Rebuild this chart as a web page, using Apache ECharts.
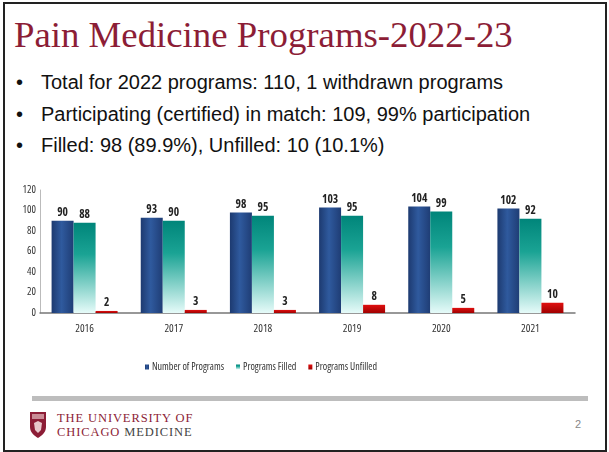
<!DOCTYPE html>
<html>
<head>
<meta charset="utf-8">
<script src="https://cdn.jsdelivr.net/npm/echarts@6/dist/echarts.min.js"></script>
<style>
  html, body { margin: 0; padding: 0; background: #fff; }
  #slide { position: relative; width: 609px; height: 452px; overflow: hidden; }
  #frame { position: absolute; left: 3px; top: 2px; width: 600px; height: 446px; border: 2px solid #222; }
  #title { position: absolute; left: 14px; top: 13px; font-family: "Liberation Serif", "Times New Roman", serif;
           font-size: 36.8px; color: #8c1d36; white-space: nowrap; }
  .bullet { position: absolute; left: 16px; font-family: "Liberation Sans", Arial, sans-serif; font-size: 20px;
            color: #111; white-space: nowrap; }
  .bullet span { display: inline-block; width: 25px; }
  #chart { position: absolute; left: 0; top: 170px; width: 609px; height: 210px; }
  #rule { position: absolute; left: 32px; top: 396px; width: 556px; height: 5px; background: #bdbdbd; }
  #logo { position: absolute; left: 30px; top: 412px; }
  #uni { position: absolute; left: 57px; top: 411px; font-family: "Liberation Serif", "Times New Roman", serif;
         font-size: 12.5px; line-height: 14px; letter-spacing: 0.9px; color: #8c1d36; }
  #uni .g { color: #444; }
  #page { position: absolute; left: 575px; top: 418px; font-family: "Liberation Sans", Arial, sans-serif;
          font-size: 11px; color: #888; }
</style>
</head>
<body>
<div id="slide">
  <div id="frame"></div>
  <div id="title">Pain Medicine Programs-2022-23</div>
  <div class="bullet" style="top:71px"><span>•</span>Total for 2022 programs: 110, 1 withdrawn programs</div>
  <div class="bullet" style="top:103px"><span>•</span>Participating (certified) in match: 109, 99% participation</div>
  <div class="bullet" style="top:134px"><span>•</span>Filled: 98 (89.9%), Unfilled: 10 (10.1%)</div>
  <div id="chart"></div>
  <div id="rule"></div>
  <svg id="logo" width="16" height="26" viewBox="0 0 16 26">
    <path d="M0 0 H16 V15 C16 21 11 24 8 26 C5 24 0 21 0 15 Z" fill="#8c1d36"/>
    <rect x="2" y="2" width="12" height="5" fill="#c98b95"/>
    <path d="M4 11 L8 9 L12 11 L11 18 L8 21 L5 18 Z" fill="#e8c8cc"/>
  </svg>
  <div id="uni">THE UNIVERSITY OF<br>CHICAGO <span class="g">MEDICINE</span></div>
  <div id="page">2</div>
</div>
<script>
// Chart data
var years = ['2016', '2017', '2018', '2019', '2020', '2021'];
var numberOfPrograms = [90, 93, 98, 103, 104, 102];
var programsFilled = [88, 90, 95, 95, 99, 92];
var programsUnfilled = [2, 3, 3, 8, 5, 10];
var yTicks = [0, 20, 40, 60, 80, 100, 120];

var chartDom = document.getElementById('chart');
var myChart = echarts.init(chartDom, null, { renderer: 'canvas' });

// narrow look like the original slide font
var narrow = '"Open Sans", Arial, sans-serif';

var labelStyle = {
  show: true,
  position: 'top',
  distance: 2,
  fontFamily: narrow,
  fontStyle: 'condensed',
  fontWeight: 'bold',
  fontSize: 11.5,
  color: '#222'
};

var option = {
  animation: false,
  grid: { left: 40, right: 34, top: 20, bottom: 67 },
  legend: {
    top: 187,
    left: 140,
    itemWidth: 4,
    itemHeight: 5,
    itemGap: 12,
    icon: 'rect',
    textStyle: { fontFamily: narrow, fontStyle: 'condensed', fontSize: 10, color: '#333', padding: [0, 0, 0, -2] },
    data: ['Number of Programs', 'Programs Filled', 'Programs Unfilled']
  },
  xAxis: {
    type: 'category',
    data: years,
    axisLine: { lineStyle: { color: '#777', width: 1.5 } },
    axisTick: { show: false },
    axisLabel: { margin: 10, fontFamily: narrow, fontStyle: 'condensed', fontSize: 11, color: '#333' }
  },
  yAxis: {
    type: 'value',
    min: yTicks[0],
    max: yTicks[yTicks.length - 1],
    interval: 20,
    splitLine: { show: false },
    axisLine: { show: true, lineStyle: { color: '#bbb' } },
    axisTick: { show: false },
    axisLabel: { margin: 4, fontFamily: narrow, fontStyle: 'condensed', fontSize: 10.5, color: '#333' }
  },
  series: [
    {
      name: 'Number of Programs',
      type: 'bar',
      data: numberOfPrograms,
      barWidth: 22,
      barGap: '0%',
      label: labelStyle,
      itemStyle: {
        color: new echarts.graphic.LinearGradient(0, 0, 1, 0, [
          { offset: 0, color: '#1d3a70' },
          { offset: 0.45, color: '#2f5a9e' },
          { offset: 1, color: '#1f3d75' }
        ])
      }
    },
    {
      name: 'Programs Filled',
      type: 'bar',
      data: programsFilled,
      barWidth: 22,
      label: labelStyle,
      itemStyle: {
        color: new echarts.graphic.LinearGradient(0, 0, 0, 1, [
          { offset: 0, color: '#00857a' },
          { offset: 0.35, color: '#1aa394' },
          { offset: 1, color: '#e6fbf9' }
        ])
      }
    },
    {
      name: 'Programs Unfilled',
      type: 'bar',
      data: programsUnfilled,
      barWidth: 22,
      label: labelStyle,
      itemStyle: {
        color: new echarts.graphic.LinearGradient(0, 0, 0, 1, [
          { offset: 0, color: '#e01010' },
          { offset: 1, color: '#a00000' }
        ])
      }
    }
  ]
};

myChart.setOption(option);
</script>
</body>
</html>
